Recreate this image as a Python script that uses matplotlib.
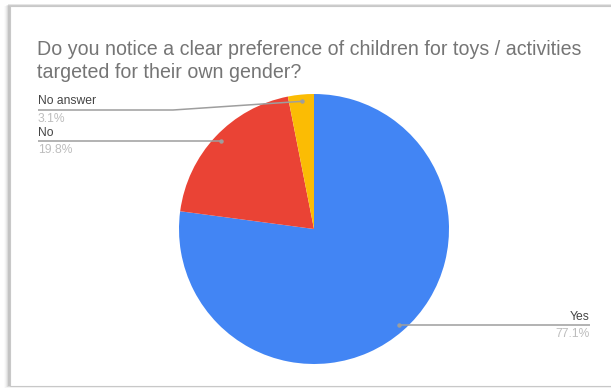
import numpy as np
import matplotlib.pyplot as plt
import matplotlib.patches as patches

# survey answers
labels = ['Yes', 'No', 'No answer']
values = [77.1, 19.8, 3.1]
colors = ['#4285F4', '#EA4335', '#FBBC04']
title = 'Do you notice a clear preference of children for toys / activities\ntargeted for their own gender?'

W, H = 611, 391
plt.rcParams['font.family'] = ['Liberation Sans', 'DejaVu Sans']

fig = plt.figure(figsize=(W / 100, H / 100), dpi=100)
ax = fig.add_axes([0, 0, 1, 1])

def py(y):
    # pixel row (from top) -> data y
    return H - y

# card with soft shadow on the left and bottom
for i, a in enumerate([0.05, 0.08, 0.12, 0.18, 0.28]):
    ax.add_patch(patches.Rectangle((9 - 5 + i, py(388 - i * 0.4)), W, 388 - 6,
                                   facecolor='#000000', alpha=a * 0.35, lw=0))
ax.add_patch(patches.Rectangle((9.5, py(386)), W, 386 - 6,
                               facecolor='white', edgecolor='#c8c8c8', lw=0.8))

cx, cy, r = 314, py(229), 135
wedges, _ = ax.pie(values, colors=colors, startangle=90, counterclock=False,
                   center=(cx, cy), radius=r, wedgeprops=dict(lw=0))

ax.set_xlim(0, W)
ax.set_ylim(0, H)
ax.set_aspect('auto')
ax.axis('off')

ax.text(37, py(61), title, fontsize=14.1, color='#757575', va='center',
        linespacing=1.3)

def dot(w, frac=0.95):
    ang = np.deg2rad((w.theta1 + w.theta2) / 2)
    return cx + frac * r * np.cos(ang), cy + frac * r * np.sin(ang)

line_kw = dict(color='#9e9e9e', lw=1.1, solid_capstyle='butt')
lab_kw = dict(fontsize=8.7, color='#444444')
pct_kw = dict(fontsize=8.7, color='#bdbdbd')

# Yes: right side
dx, dy = dot(wedges[0])
ax.plot([dx, 590], [dy, dy], **line_kw)
ax.plot(dx, dy, 'o', ms=2.2, color='#9e9e9e')
ax.text(590, dy + 2.5, labels[0], ha='right', va='bottom', **lab_kw)
ax.text(590, dy - 2.5, f'{values[0]:.1f}%', ha='right', va='top', **pct_kw)

# No: left side
dx, dy = dot(wedges[1])
ax.plot([38, dx], [dy, dy], **line_kw)
ax.plot(dx, dy, 'o', ms=2.2, color='#9e9e9e')
ax.text(38, dy + 2.5, labels[1], ha='left', va='bottom', **lab_kw)
ax.text(38, dy - 2.5, f'{values[1]:.1f}%', ha='left', va='top', **pct_kw)

# No answer: left side with a bent leader
dx, dy = dot(wedges[2])
ly = py(110)
ax.plot([38, 173, dx], [ly, ly, dy], **line_kw)
ax.plot(dx, dy, 'o', ms=2.2, color='#9e9e9e')
ax.text(38, ly + 2.5, labels[2], ha='left', va='bottom', **lab_kw)
ax.text(38, ly - 2.5, f'{values[2]:.1f}%', ha='left', va='top', **pct_kw)

fig.savefig('out.png', dpi=100)
